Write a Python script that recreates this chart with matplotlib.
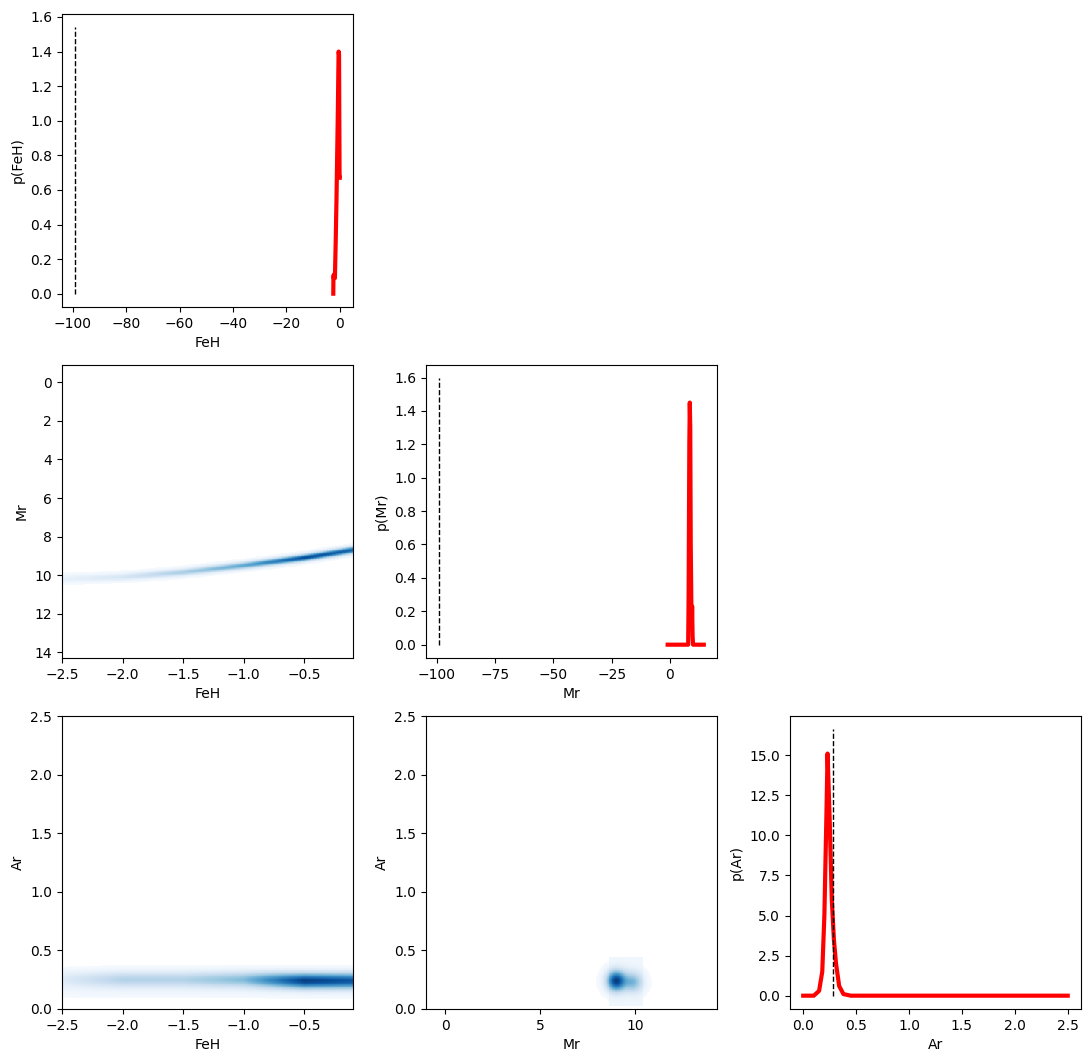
import numpy as np
import matplotlib
matplotlib.use("Agg")
import matplotlib.pyplot as plt

# 1D marginals
feh_x = [-2.5, -2.45, -2.3, -2.3, -1.9, -1.6, -1.3, -1.0, -0.8, -0.6, -0.5, -0.35, -0.25, -0.15, -0.1]
feh_p = [0.0, 0.10, 0.11, 0.09, 0.09, 0.30, 0.55, 0.85, 1.05, 1.30, 1.40, 1.38, 1.0, 0.67, 0.67]
mr_x = [-1, 7.8, 8.0, 8.3, 8.5, 8.7, 8.9, 9.2, 9.4, 9.5, 9.7, 9.9, 10.2, 14.5]
mr_p = [0, 0, 0.3, 1.2, 1.45, 1.3, 0.6, 0.2, 0.15, 0.23, 0.05, 0, 0, 0]
ar_x = [0.0, 0.1, 0.15, 0.18, 0.2, 0.22, 0.23, 0.25, 0.27, 0.29, 0.31, 0.34, 0.38, 0.45, 2.5]
ar_p = [0.0, 0.0, 0.3, 1.5, 5.0, 11.5, 15.1, 11.0, 6.0, 3.5, 2.0, 0.6, 0.1, 0.0, 0.0]
true_feh, true_mr, true_ar = -99.0, -99.0, 0.28

# 2D density ridges
ridge_feh = [-2.5, -2.0, -1.5, -1.0, -0.5, -0.1]
ridge_mr = [10.2, 10.1, 9.85, 9.5, 9.1, 8.7]
ridge_w = [0.06, 0.15, 0.35, 0.55, 0.95, 0.85]
ar_band_w = [0.10, 0.30, 0.30, 0.45, 1.0, 0.9]
ar_band_c = [0.25, 0.25, 0.25, 0.25, 0.24, 0.24]
blob_mr = [9.0, 9.9]
blob_ar = [0.24, 0.23]
blob_w = [1.0, 0.45]

cmap = plt.get_cmap("Blues").copy()
cmap.set_bad("white")

fig = plt.figure(figsize=(10.91, 10.63), dpi=100)
L = [0.0568, 0.3905, 0.7241]
B = [0.7112, 0.381, 0.0508]
W, H = 0.2667, 0.2756

def ax_at(r, c):
    return fig.add_axes([L[c], B[r], W, H])

def marg(ax, x, p, t, lab):
    ax.plot(x, p, color="red", lw=3)
    ax.vlines(t, 0, max(p) * 1.1, colors="k", linestyles="--", lw=1)
    ax.set_xlabel(lab); ax.set_ylabel("p(%s)" % lab)

def dens(ax, X, Y, Z):
    Zm = np.ma.masked_less(Z, 0.01)
    ax.pcolormesh(X, Y, Zm, cmap=cmap, shading="nearest", vmin=0, vmax=1.1)

marg(ax_at(0, 0), feh_x, feh_p, true_feh, "FeH")
marg(ax_at(1, 1), mr_x, mr_p, true_mr, "Mr")
marg(ax_at(2, 2), ar_x, ar_p, true_ar, "Ar")

fg = np.linspace(-2.5, -0.1, 200)
# Mr vs FeH
mg = np.linspace(-0.9, 14.3, 400)
F, M = np.meshgrid(fg, mg)
c = np.interp(F, ridge_feh, ridge_mr)
w = np.interp(F, ridge_feh, ridge_w)
Z = w * np.exp(-0.5 * ((M - c) / 0.12) ** 2) + 0.03 * np.exp(-0.5 * ((M - c) / 0.2) ** 2)
ax = ax_at(1, 0)
dens(ax, F, M, Z)
ax.set_xlim(-2.5, -0.1); ax.set_ylim(14.3, -0.9)
ax.set_xlabel("FeH"); ax.set_ylabel("Mr")

# Ar vs FeH
ag = np.linspace(0, 2.5, 400)
F, A = np.meshgrid(fg, ag)
c = np.interp(F, ridge_feh, ar_band_c)
w = np.interp(F, ridge_feh, ar_band_w)
Z = w * np.exp(-0.5 * ((A - c) / 0.045) ** 2) + 0.04 * np.exp(-0.5 * ((A - 0.22) / 0.1) ** 4)
ax = ax_at(2, 0)
dens(ax, F, A, Z)
ax.set_xlim(-2.5, -0.1); ax.set_ylim(0, 2.5)
ax.set_xlabel("FeH"); ax.set_ylabel("Ar")

# Ar vs Mr
mg2 = np.linspace(-1, 14.3, 400)
M, A = np.meshgrid(mg2, ag)
Z = np.zeros_like(M)
for m0, a0, ww in zip(blob_mr, blob_ar, blob_w):
    Z += ww * np.exp(-0.5 * (((M - m0) / 0.35) ** 2 + ((A - a0) / 0.06) ** 2))
Z += 0.04 * ((M > 8.6) & (M < 10.4) & (A > 0.03) & (A < 0.45))
ax = ax_at(2, 1)
dens(ax, M, A, Z)
ax.set_xlim(-1, 14.3); ax.set_ylim(0, 2.5)
ax.set_xlabel("Mr"); ax.set_ylabel("Ar")

fig.savefig("out.png", dpi=100)
